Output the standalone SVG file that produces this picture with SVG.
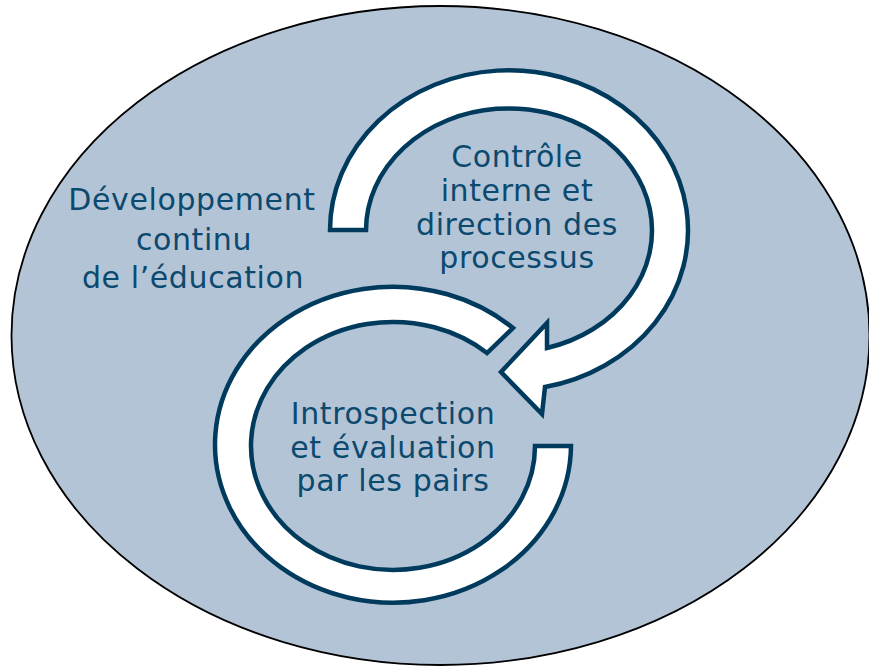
<svg xmlns="http://www.w3.org/2000/svg" width="869" height="667" viewBox="0 0 869 667">
<style>
.bg{fill:#b4c4d7;stroke:#000;stroke-width:1.8}
.arc{fill:#fff;stroke:#003a5c;stroke-width:4.5;stroke-linejoin:miter}
.t{font-family:"DejaVu Sans",Verdana,sans-serif;font-size:30px;fill:#0b4a6e;text-anchor:middle;letter-spacing:0.6px}
</style>
<rect width="869" height="667" fill="#fff"/>
<g id="background">
<ellipse class="bg" cx="440.5" cy="335.5" rx="429" ry="329.5"/>
</g>
<g id="connectors">
<path id="arc-top" class="arc" d="M 330 230 A 179 160 0 1 1 545 387 L 542 414 L 501 372 L 547 323 L 547 348 A 143 122 0 1 0 366 230 Z"/>
<path id="arc-bottom" class="arc" d="M 513 328 A 178 158 0 1 0 571 446 L 535 446 A 142 124 0 1 1 487 353 Z"/>
</g>
<g id="node-developpement">
<text class="t" x="192" y="210">Développement</text>
<text class="t" x="194" y="250">continu</text>
<text class="t" x="193" y="288">de l’éducation</text>
</g>
<g id="node-controle">
<text class="t" x="517" y="167">Contrôle</text>
<text class="t" x="517" y="201">interne et</text>
<text class="t" x="517" y="235">direction des</text>
<text class="t" x="517" y="268">processus</text>
</g>
<g id="node-introspection">
<text class="t" x="393" y="424">Introspection</text>
<text class="t" x="393" y="458">et évaluation</text>
<text class="t" x="393" y="491">par les pairs</text>
</g>
</svg>
